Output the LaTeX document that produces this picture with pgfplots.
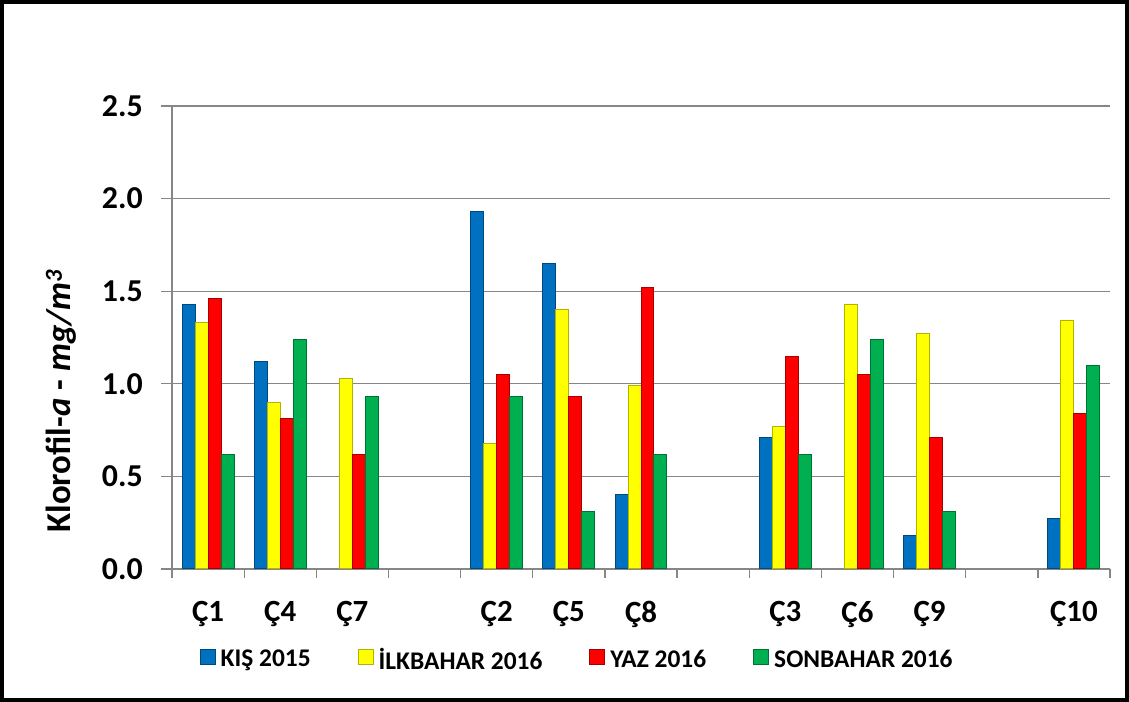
\documentclass[border=0pt]{standalone}
\usepackage{fontspec}
\setmainfont{Carlito}
\usepackage{pgfplots}
\pgfplotsset{compat=1.18}
\definecolor{cblue}{RGB}{0,112,192}
\definecolor{cyellow}{RGB}{255,255,0}
\definecolor{cred}{RGB}{255,0,0}
\definecolor{cgreen}{RGB}{0,176,80}
\definecolor{gridgray}{RGB}{134,134,134}
\begin{document}
\begin{tikzpicture}[x=1bp,y=1bp]
\useasboundingbox (-172,-133) rectangle (957,569);
\draw[line width=4bp, black] (-170,-131) rectangle (955,567);
\begin{axis}[
  at={(0,0)}, anchor=south west,
  scale only axis, width=938bp, height=463bp,
  xmin=0, xmax=13, ymin=0, ymax=2.5,
  ybar=0pt, bar width=0.18,
  axis lines*=left,
  axis line style={gridgray, line width=1.3bp},
  ytick={0,0.5,...,2.5},
  ymajorgrids, grid style={gridgray, line width=1.3bp},
  xtick={0.5,1.5,2.5,4.5,5.5,6.5,8.5,9.5,10.5,12.5},
  xticklabels={Ç1,Ç4,Ç7,Ç2,Ç5,Ç8,Ç3,Ç6,Ç9,Ç10},
  minor xtick={0,...,13},
  tick align=outside,
  major tick length=11bp, minor tick length=9bp,
  major x tick style={draw=none},
  tick style={gridgray, line width=1.3bp},
  /pgf/number format/assume math mode=true,
  yticklabel={\pgfmathprintnumber[fixed,fixed zerofill,precision=1]{\tick}},
  yticklabel style={font=\fontsize{32}{38}\selectfont\bfseries, inner sep=0pt, xshift=-18bp},
  xticklabel style={font=\fontsize{31}{37}\selectfont\bfseries, inner sep=0pt, anchor=north, yshift=-21bp},
  ylabel={Klorofil-\textit{a} - \textit{mg/m}\textsuperscript{\textit{3}}},
  ylabel style={font=\fontsize{35}{42}\selectfont\bfseries, at={(axis description cs:-0.118,0.363)}, anchor=center},
  legend columns=4,
  legend cell align=left,
  legend style={draw=none, fill=none, font=\fontsize{25.5}{30}\selectfont\bfseries,
    at={(axis description cs:0.4335,-0.195)}, anchor=center,
    nodes={inner xsep=5bp},
    /tikz/every even column/.append style={column sep=42bp}},
  legend image code/.code={\draw[#1] (0bp,-5bp) rectangle (15bp,10bp);},
]
\addplot[fill=cblue, draw=cblue!65!black, line width=1bp] coordinates {(0.5,1.43)(1.5,1.12)(4.5,1.93)(5.5,1.65)(6.5,0.40)(8.5,0.71)(10.5,0.18)(12.5,0.27)};
\addplot[fill=cyellow, draw=cyellow!70!black, line width=1bp] coordinates {(0.5,1.33)(1.5,0.90)(2.5,1.03)(4.5,0.68)(5.5,1.40)(6.5,0.99)(8.5,0.77)(9.5,1.43)(10.5,1.27)(12.5,1.34)};
\addplot[fill=cred, draw=cred!65!black, line width=1bp] coordinates {(0.5,1.46)(1.5,0.81)(2.5,0.62)(4.5,1.05)(5.5,0.93)(6.5,1.52)(8.5,1.15)(9.5,1.05)(10.5,0.71)(12.5,0.84)};
\addplot[fill=cgreen, draw=cgreen!65!black, line width=1bp] coordinates {(0.5,0.62)(1.5,1.24)(2.5,0.93)(4.5,0.93)(5.5,0.31)(6.5,0.62)(8.5,0.62)(9.5,1.24)(10.5,0.31)(12.5,1.10)};
\legend{KIŞ 2015, İLKBAHAR 2016, YAZ 2016, SONBAHAR 2016}
\end{axis}
\end{tikzpicture}
\end{document}
